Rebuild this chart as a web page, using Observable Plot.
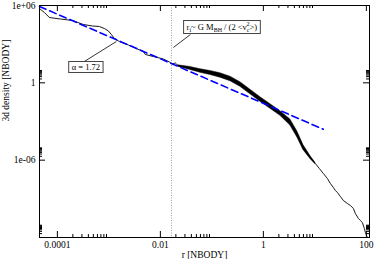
<!DOCTYPE html>
<html><head><meta charset="utf-8">
<script src="https://cdn.jsdelivr.net/npm/d3@7"></script>
<script src="https://cdn.jsdelivr.net/npm/@observablehq/plot@0.6"></script>
<style>html,body{margin:0;padding:0;background:#fff} svg{display:block}</style>
</head><body><div id="chart"></div>
<script>
// ---- data ----
const curveR = [4.5e-5, 5.6e-5, 7.0e-5, 1.14e-4, 1.95e-4, 3.2e-4, 4.79e-4, 6.55e-4, 8.19e-4, 9.8e-4, 1.12e-3, 1.28e-3, 1.6e-3, 2.39e-3, 3.58e-3, 4.68e-3, 5.11e-3, 7.31e-3, 1.14e-2, 1.5e-2, 1.71e-2, 1.95e-2];
const curveRho = [5.85e5, 2.86e5, 1.17e5, 8.97e4, 6.86e4, 3.36e4, 2.57e4, 2.35e4, 1.64e4, 1.05e4, 5.6e3, 2.75e3, 1.61e3, 863, 422, 270, 158, 110, 70.8, 41.4, 29, 34.6];
// noisy section: centre and envelope
const bandR = [0.0224, 0.0383, 0.0598, 0.0936, 0.146, 0.229, 0.357, 0.560, 0.875, 1.37, 2.14, 3.34, 4.57, 5.98, 8.18, 10.2];
const bandMid = [20.2, 12.9, 8.29, 5.80, 3.71, 1.99, 0.743, 0.195, 0.0510, 0.0146, 4.18e-3, 8.38e-4, 9.82e-5, 9.63e-6, 1.61e-6, 5.52e-7];
const bandLo = [17.9, 9.91, 6.01, 4.06, 2.51, 1.32, 0.493, 0.129, 0.0339, 9.68e-3, 2.77e-3, 4.90e-4, 5.74e-5, 6.17e-6, 1.24e-6, 4.88e-7];
const bandHi = [22.9, 16.9, 11.5, 8.28, 5.51, 2.99, 1.12, 0.293, 0.0769, 0.0220, 6.30e-3, 1.43e-3, 1.68e-4, 1.51e-5, 2.11e-6, 6.25e-7];
const tailR = [12.2, 14.6, 17.5, 20.0, 22.9, 25.0, 27.3, 31.3, 35.7, 42.8, 48.9, 56.0, 61.1, 70.0, 76.4, 83.6, 91.4, 95.7, 104.5];
const tailRho = [2.26e-7, 9.27e-8, 3.79e-8, 1.55e-8, 7.59e-9, 4.44e-9, 3.11e-9, 1.52e-9, 7.44e-10, 4.36e-10, 3.05e-10, 1.78e-10, 7.30e-11, 2.99e-11, 2.09e-11, 1.46e-11, 5.01e-12, 2.45e-12, 1.0e-12];
// power-law fit (alpha = 1.72) end points
const fitR = [4.5e-5, 14.6];
const fitRho = [8.4e5, 2.5e-4];
const alphaText = "α = 1.72";
// influence radius
const rInfluence = [0.0164];
// annotations (data coords)
const alphaLabelAt = [3.66e-4, 15.5];
const alphaLeader = [[3.34e-4, 45.3], [1.40e-3, 1.61e3]];
const riLabelAt = [0.16, 1.96e4];
const riLeader = [[0.0383, 5.6e3], [0.0179, 552]];
// ticks
const xMajor = [1e-4, 1e-2, 1, 100];
const xLabels = ["0.0001", "0.01", "1", "100"];
const yMajor = [1e6, 1, 1e-6, 1e-12];
const yLabels = ["1e+06", "1", "1e-06", ""];
const minorMult = [2, 3, 4, 5, 6, 7, 8, 9];
const xLabel = "r [NBODY]";
const yLabel = "3d density [NBODY]";

const xDomain = [4.5e-5, 115], yDomain = [1e-12, 1e6];
const W = 374, H = 259, mL = 39, mR = 5, mT = 5, mB = 22;
const iW = W - mL - mR, iH = H - mT - mB;
const inside = (v, d) => v >= d[0] && v <= d[1];
const xMinor = xMajor.flatMap(m => minorMult.map(k => k * m)).filter(v => inside(v, xDomain));
const yMinor = yMajor.flatMap(m => minorMult.map(k => k * m)).filter(v => inside(v, yDomain));

const lineData = [
  ...curveR.map((r, i) => ({r, rho: curveRho[i]})),
  ...bandR.map((r, i) => ({r, rho: bandMid[i]})),
  ...tailR.map((r, i) => ({r, rho: tailRho[i]}))
];
const bandData = bandR.map((r, i) => ({r, lo: bandLo[i], hi: bandHi[i]}));
const fitData = fitR.map((r, i) => ({r, rho: fitRho[i]}));
const leaders = [alphaLeader, riLeader].map(([a, b]) => ({x1: a[0], y1: a[1], x2: b[0], y2: b[1]}));

const MAJ = 6, MIN = 3;
const plot = Plot.plot({
  width: W, height: H,
  marginLeft: mL, marginRight: mR, marginTop: mT, marginBottom: mB,
  style: {fontFamily: "'Liberation Serif','Times New Roman',serif", fontSize: "9.5px", background: "#fff", color: "#000"},
  x: {type: "log", domain: xDomain},
  y: {type: "log", domain: yDomain},
  marks: [
    Plot.ruleX(rInfluence, {x: d => d, stroke: "#9a9a9a", strokeDasharray: "1,1.5"}),
    Plot.areaY(bandData, {x: "r", y1: "lo", y2: "hi", fill: "#000", stroke: "#000", strokeWidth: 0.5, curve: "linear"}),
    Plot.line(lineData, {x: "r", y: "rho", stroke: "#000", strokeWidth: 0.9, curve: "linear"}),
    Plot.line(fitData, {x: "r", y: "rho", stroke: "#0000ff", strokeWidth: 1.6, strokeDasharray: "7,4"}),
    Plot.link(leaders, {x1: "x1", y1: "y1", x2: "x2", y2: "y2", stroke: "#000", strokeWidth: 0.8}),
    Plot.frame({stroke: "#000", strokeWidth: 1}),
    Plot.tickX(xMajor, {x: d => d, insetBottom: iH - MAJ, stroke: "#000"}),
    Plot.tickX(xMajor, {x: d => d, insetTop: iH - MAJ, stroke: "#000"}),
    Plot.tickX(xMinor, {x: d => d, insetBottom: iH - MIN, stroke: "#000"}),
    Plot.tickX(xMinor, {x: d => d, insetTop: iH - MIN, stroke: "#000"}),
    Plot.tickY(yMajor, {y: d => d, insetRight: iW - MAJ, stroke: "#000"}),
    Plot.tickY(yMajor, {y: d => d, insetLeft: iW - MAJ, stroke: "#000"}),
    Plot.tickY(yMinor, {y: d => d, insetRight: iW - MIN, stroke: "#000"}),
    Plot.tickY(yMinor, {y: d => d, insetLeft: iW - MIN, stroke: "#000"}),
    Plot.axisX({ticks: xMajor, tickSize: 0, tickPadding: 4, tickFormat: d => xLabels[xMajor.indexOf(d)], label: null}),
    Plot.axisY({ticks: yMajor, tickSize: 0, tickPadding: 4, tickFormat: d => yLabels[yMajor.indexOf(d)], label: null}),
    Plot.text([xLabel], {text: d => d, frameAnchor: "bottom", dy: 20.5, lineAnchor: "bottom"}),
    Plot.text([yLabel], {text: d => d, frameAnchor: "left", dx: -34, rotate: -90})
  ]
});
document.getElementById("chart").appendChild(plot);

// ---- boxed annotations ----
const sx = plot.scale("x"), sy = plot.scale("y");
const svg = d3.select(plot);
const ff = "'Liberation Serif','Times New Roman',serif";
function boxedLabel(at, parts) {
  const g = svg.append("g");
  const t = g.append("text")
    .attr("x", sx.apply(at[0])).attr("y", sy.apply(at[1]) + 3)
    .attr("text-anchor", "middle").attr("font-family", ff).attr("font-size", 8.5)
    .attr("fill", "#000").style("white-space", "pre");
  for (const p of parts) {
    const s = t.append("tspan").text(p.t);
    if (p.size) s.attr("font-size", p.size);
    if (p.dy) s.attr("dy", p.dy);
    if (p.dx) s.attr("dx", p.dx);
  }
  const b = t.node().getBBox();
  g.insert("rect", "text")
    .attr("x", b.x - 3).attr("y", b.y - 0.5).attr("width", b.width + 6).attr("height", b.height + 1)
    .attr("fill", "#fff").attr("stroke", "#444").attr("stroke-width", 1);
}
boxedLabel(alphaLabelAt, [{t: alphaText}]);
boxedLabel(riLabelAt, [
  {t: "r"}, {t: "i", size: 6, dy: 2}, {t: "~ G M", dy: -2}, {t: "BH", size: 6, dy: 2},
  {t: " / (2 <v", dy: -2}, {t: "c", size: 6, dy: 2}, {t: "2", size: 6, dx: -3, dy: -6}, {t: ">)", dy: 4}
]);
</script>
</body></html>
